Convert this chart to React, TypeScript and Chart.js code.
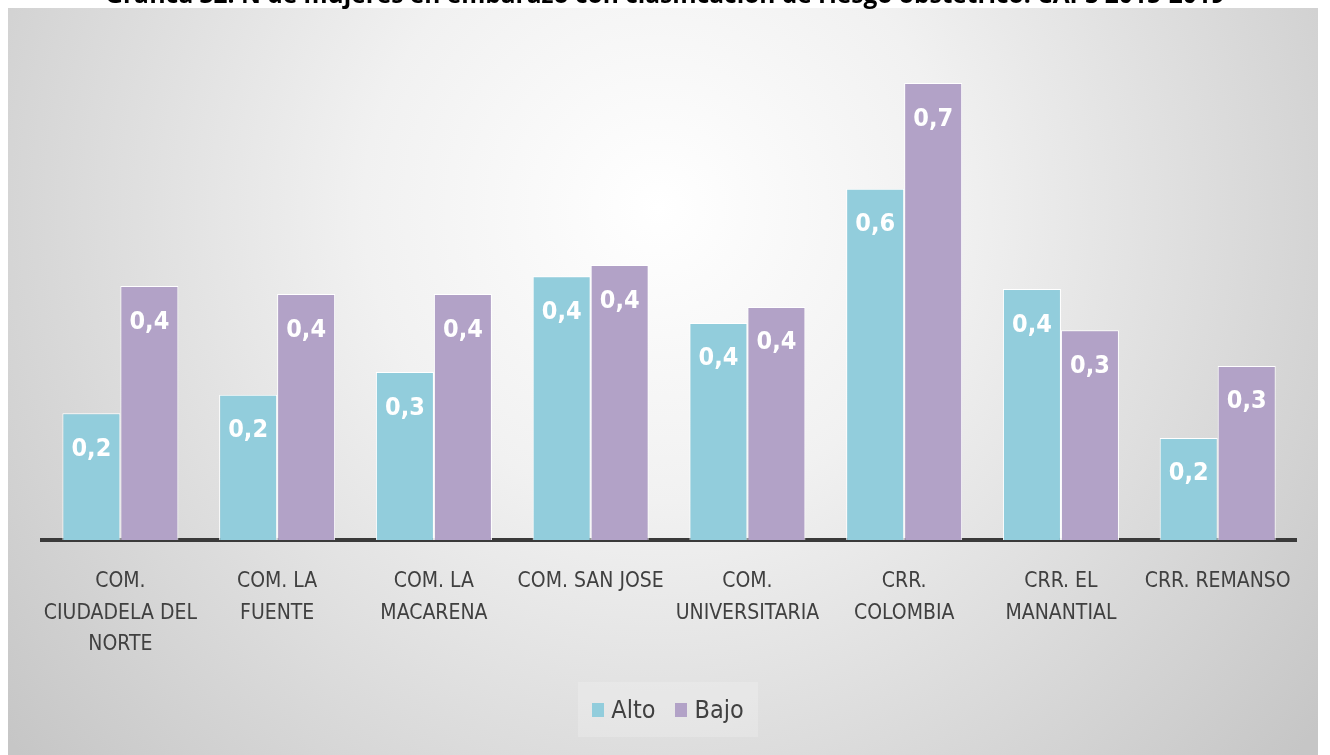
import React, { useEffect, useRef } from "react";
import { Chart, registerables } from "chart.js";

Chart.register(...registerables);

const titleText =
  "Gráfica 32. N de mujeres en embarazo con clasificación de riesgo obstétrico. CAPS 2015-2019";

const categories: string[][] = [
  ["COM.", "CIUDADELA DEL", "NORTE"],
  ["COM. LA", "FUENTE"],
  ["COM. LA", "MACARENA"],
  ["COM. SAN JOSE"],
  ["COM.", "UNIVERSITARIA"],
  ["CRR.", "COLOMBIA"],
  ["CRR. EL", "MANANTIAL"],
  ["CRR. REMANSO"],
];

const altoValues = [0.206, 0.236, 0.273, 0.429, 0.353, 0.571, 0.408, 0.166];
const bajoValues = [0.413, 0.4, 0.4, 0.447, 0.379, 0.743, 0.341, 0.283];

const seriesNames = ["Alto", "Bajo"];
const seriesColors = ["#92CDDC", "#B2A2C7"];

const NARROW = "'Liberation Sans Narrow', 'DejaVu Sans Condensed', 'Roboto Condensed', 'Liberation Sans', sans-serif";

const bgPlugin = {
  id: "bgGradient",
  beforeDraw(chart: any) {
    const { ctx, width, height } = chart;
    ctx.save();
    const g = ctx.createRadialGradient(650, 200, 0, 650, 200, 840);
    g.addColorStop(0, "#ffffff");
    g.addColorStop(0.35, "#f1f1f1");
    g.addColorStop(1, "#c6c6c6");
    ctx.fillStyle = g;
    ctx.fillRect(0, 0, width, height);
    ctx.restore();
  },
};

const labelPlugin = {
  id: "barLabels",
  afterDatasetsDraw(chart: any) {
    const { ctx } = chart;
    ctx.save();
    ctx.fillStyle = "#ffffff";
    ctx.font = `bold 25px ${NARROW}`;
    ctx.textAlign = "center";
    ctx.textBaseline = "middle";
    chart.data.datasets.forEach((ds: any, di: number) => {
      const meta = chart.getDatasetMeta(di);
      meta.data.forEach((el: any, i: number) => {
        const v = ds.data[i] as number;
        const txt = v.toFixed(1).replace(".", ",");
        ctx.fillText(txt, el.x, el.y + 36);
      });
    });
    ctx.restore();
  },
};

export default function App() {
  const ref = useRef<HTMLCanvasElement | null>(null);

  useEffect(() => {
    if (!ref.current) return;
    const chart = new Chart(ref.current, {
      type: "bar",
      data: {
        labels: categories,
        datasets: [
          {
            label: seriesNames[0],
            data: altoValues,
            backgroundColor: seriesColors[0],
            borderColor: "#ffffff",
            borderWidth: 1,
          },
          {
            label: seriesNames[1],
            data: bajoValues,
            backgroundColor: seriesColors[1],
            borderColor: "#ffffff",
            borderWidth: 1,
          },
        ],
      },
      options: {
        responsive: false,
        animation: false,
        devicePixelRatio: 1,
        layout: { padding: { left: 34, right: 21, top: 40, bottom: 0 } },
        datasets: { bar: { categoryPercentage: 0.74, barPercentage: 1 } },
        plugins: {
          legend: { display: false },
          tooltip: { enabled: false },
        },
        scales: {
          y: {
            display: false,
            min: 0,
            max: 0.8,
          },
          x: {
            grid: { display: false, drawTicks: false },
            border: { display: true, color: "#3a3a3a", width: 4 },
            ticks: {
              color: "#404040",
              padding: 26,
              font: { family: NARROW, size: 21, lineHeight: 1.5 },
              maxRotation: 0,
              autoSkip: false,
            },
            afterFit(scale: any) {
              scale.height = 215;
            },
          },
        },
      },
      plugins: [bgPlugin, labelPlugin],
    });
    return () => chart.destroy();
  }, []);

  return (
    <div>
      <div
        style={{
          position: "absolute",
          top: -18,
          left: 0,
          width: 1330,
          textAlign: "center",
          fontFamily: "'Liberation Sans Narrow', 'Open Sans', sans-serif",
          fontWeight: "bold",
          fontSize: 24.5,
          lineHeight: "24px",
          color: "#000",
          whiteSpace: "nowrap",
          zIndex: 2,
        }}
      >
        {titleText}
      </div>
      <div style={{ position: "relative", width: 1310, height: 747 }}>
        <canvas ref={ref} width={1310} height={747} style={{ display: "block" }} />
        <div
          style={{
            position: "absolute",
            left: 570,
            top: 674,
            width: 180,
            height: 55,
            background: "rgba(255,255,255,0.2)",
            display: "flex",
            alignItems: "center",
            justifyContent: "center",
            fontFamily: NARROW,
            fontSize: 25,
            color: "#404040",
          }}
        >
          {seriesNames.map((n, i) => (
            <span key={n} style={{ display: "flex", alignItems: "center", marginLeft: i ? 20 : 0 }}>
              <span
                style={{
                  display: "inline-block",
                  width: 12,
                  height: 14,
                  background: seriesColors[i],
                  marginRight: 7,
                }}
              />
              {n}
            </span>
          ))}
        </div>
      </div>
    </div>
  );
}
